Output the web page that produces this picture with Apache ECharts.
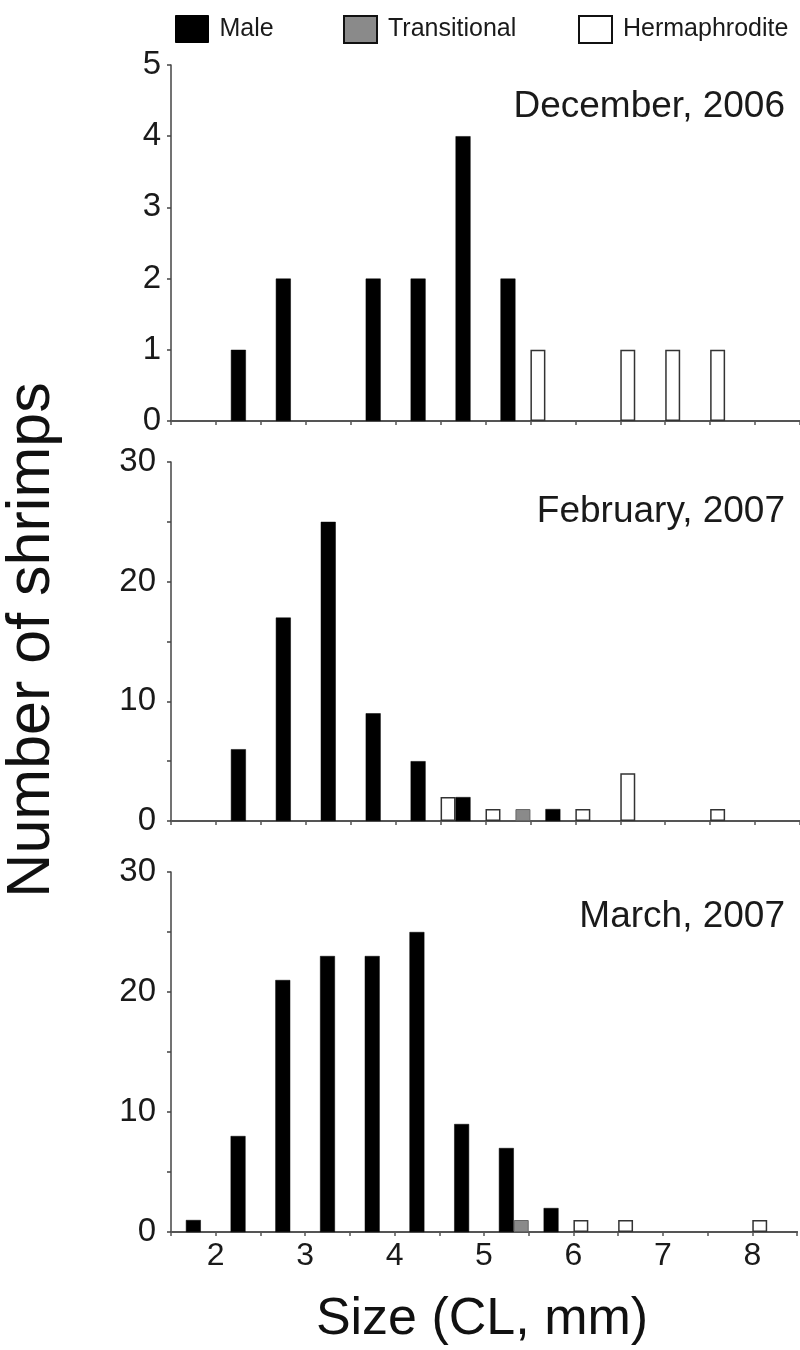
<!DOCTYPE html>
<html><head><meta charset="utf-8">
<script src="https://cdn.jsdelivr.net/npm/echarts@6/dist/echarts.min.js"></script>
<style>html,body{margin:0;padding:0;background:#fff}#c{width:800px;height:1350px}</style>
</head><body><div id="c"></div>
<script>
// Size bins (CL, mm): bin centers of 0.5 mm classes
const binCenters = ['1.75','2.25','2.75','3.25','3.75','4.25','4.75','5.25','5.75','6.25','6.75','7.25','7.75','8.25'];
const xTickLabels = [2,3,4,5,6,7,8];
const panelTitles = ['December, 2006','February, 2007','March, 2007'];
const seriesNames = ['Male','Transitional','Hermaphrodite'];

const decMale  = [0,1,2,0,2,2,4,2,0,0,0,0,0,0];
const decTrans = [0,0,0,0,0,0,0,0,0,0,0,0,0,0];
const decHerm  = [0,0,0,0,0,0,0,0,1,0,1,1,1,0];

const febMale  = [0,6,17,25,9,5,2,0,1,0,0,0,0,0];
const febTrans = [0,0,0,0,0,0,0,1,0,0,0,0,0,0];
const febHerm  = [0,0,0,0,0,0,2,1,0,1,4,0,1,0];

const marMale  = [1,8,21,23,23,25,9,7,2,0,0,0,0,0];
const marTrans = [0,0,0,0,0,0,0,1,0,0,0,0,0,0];
const marHerm  = [0,0,0,0,0,0,0,0,0,1,1,0,0,1];

const yMax = [5,30,30];
const yStep = [1,5,5];
const yLabelStep = [1,10,10];

const FONT = '"Liberation Sans", Arial, sans-serif';
const chart = echarts.init(document.getElementById('c'), null, {renderer:'canvas'});

const panels = [
  {male:decMale, trans:decTrans, herm:decHerm},
  {male:febMale, trans:febTrans, herm:febHerm},
  {male:marMale, trans:marTrans, herm:marHerm}
];
const gridPos = [
  {top:65, height:356},
  {top:462, height:359},
  {top:872, height:360}
];
const titleY = [107, 512, 917];

const grid = [], xAxis = [], yAxis = [], series = [];
const nz = a => a.map(v => v === 0 ? '-' : v);

panels.forEach((p, i) => {
  grid.push({left:171, right:0, top:gridPos[i].top, height:gridPos[i].height});
  xAxis.push({
    type:'category', gridIndex:i, data:binCenters, position:'top',
    boundaryGap:true,
    axisLine:{show:true, lineStyle:{color:'#555', width:2}},
    axisTick:{show:false}, axisLabel:{show:false}, splitLine:{show:false}
  });
  xAxis.push({
    type:'value', gridIndex:i, min:1.5, max:8.5, interval:0.5, position:'bottom',
    axisLine:{show:true, onZero:false, lineStyle:{color:'#555', width:2}},
    axisTick:{show:true, inside:false, length:4, lineStyle:{color:'#555', width:1.5}},
    axisLabel:{show:i === 2, fontSize:32, color:'#1a1a1a', fontFamily:FONT, margin:8,
      formatter: v => xTickLabels.indexOf(v) >= 0 ? String(v) : ''},
    splitLine:{show:false}
  });
  yAxis.push({
    type:'value', gridIndex:i, min:0, max:yMax[i], interval:yStep[i],
    axisLine:{show:true, lineStyle:{color:'#444', width:1.5}},
    axisTick:{show:true, inside:false, length:4, lineStyle:{color:'#444', width:1.5}},
    axisLabel:{fontSize:33, color:'#1a1a1a', fontFamily:FONT, margin: i === 0 ? 10 : 15,
      formatter: v => (v % yLabelStep[i] === 0) ? String(v) : ''},
    splitLine:{show:false}
  });
  const common = {type:'bar', xAxisIndex:i*2, yAxisIndex:i, barGap:'0%', barCategoryGap:'0%', silent:true, animation:false};
  series.push(Object.assign({}, common, {name:'Hermaphrodite', data:nz(p.herm),
    itemStyle:{color:'#fff', borderColor:'#333', borderWidth:1.5}}));
  series.push(Object.assign({}, common, {name:'Male', data:nz(p.male),
    itemStyle:{color:'#000', borderColor:'#000', borderWidth:0.5}}));
  series.push(Object.assign({}, common, {name:'Transitional', data:nz(p.trans),
    itemStyle:{color:'#8a8a8a', borderColor:'#666', borderWidth:1}}));
});

const legendStyle = (left, name, itemStyle) => ({
  left:left, top:10, orient:'horizontal', icon:'rect', itemWidth:33, itemHeight:27,
  selectedMode:false,
  data:[{name:name, itemStyle:itemStyle}],
  textStyle:{fontSize:25, color:'#1a1a1a', fontFamily:FONT, padding:[0,0,0,6]}
});

const graphic = panelTitles.map((t, i) => ({
  type:'text', x:785, y:titleY[i],
  style:{text:t, font:'37px ' + FONT, fill:'#1a1a1a', align:'right', verticalAlign:'middle'}
}));
graphic.push({
  type:'text', x:32, y:640, rotation:Math.PI/2,
  style:{text:'Number of shrimps', font:'61px ' + FONT, fill:'#111', align:'center', verticalAlign:'middle'}
});
graphic.push({
  type:'text', x:482, y:1320,
  style:{text:'Size (CL, mm)', font:'52px ' + FONT, fill:'#111', align:'center', verticalAlign:'middle'}
});

chart.setOption({
  backgroundColor:'#fff',
  animation:false,
  grid, xAxis, yAxis, series,
  legend:[
    legendStyle(170, seriesNames[0], {color:'#000', borderColor:'#000', borderWidth:1}),
    legendStyle(338, seriesNames[1], {color:'#8a8a8a', borderColor:'#111', borderWidth:2}),
    legendStyle(573, seriesNames[2], {color:'#fff', borderColor:'#111', borderWidth:2})
  ],
  graphic
});
</script></body></html>
